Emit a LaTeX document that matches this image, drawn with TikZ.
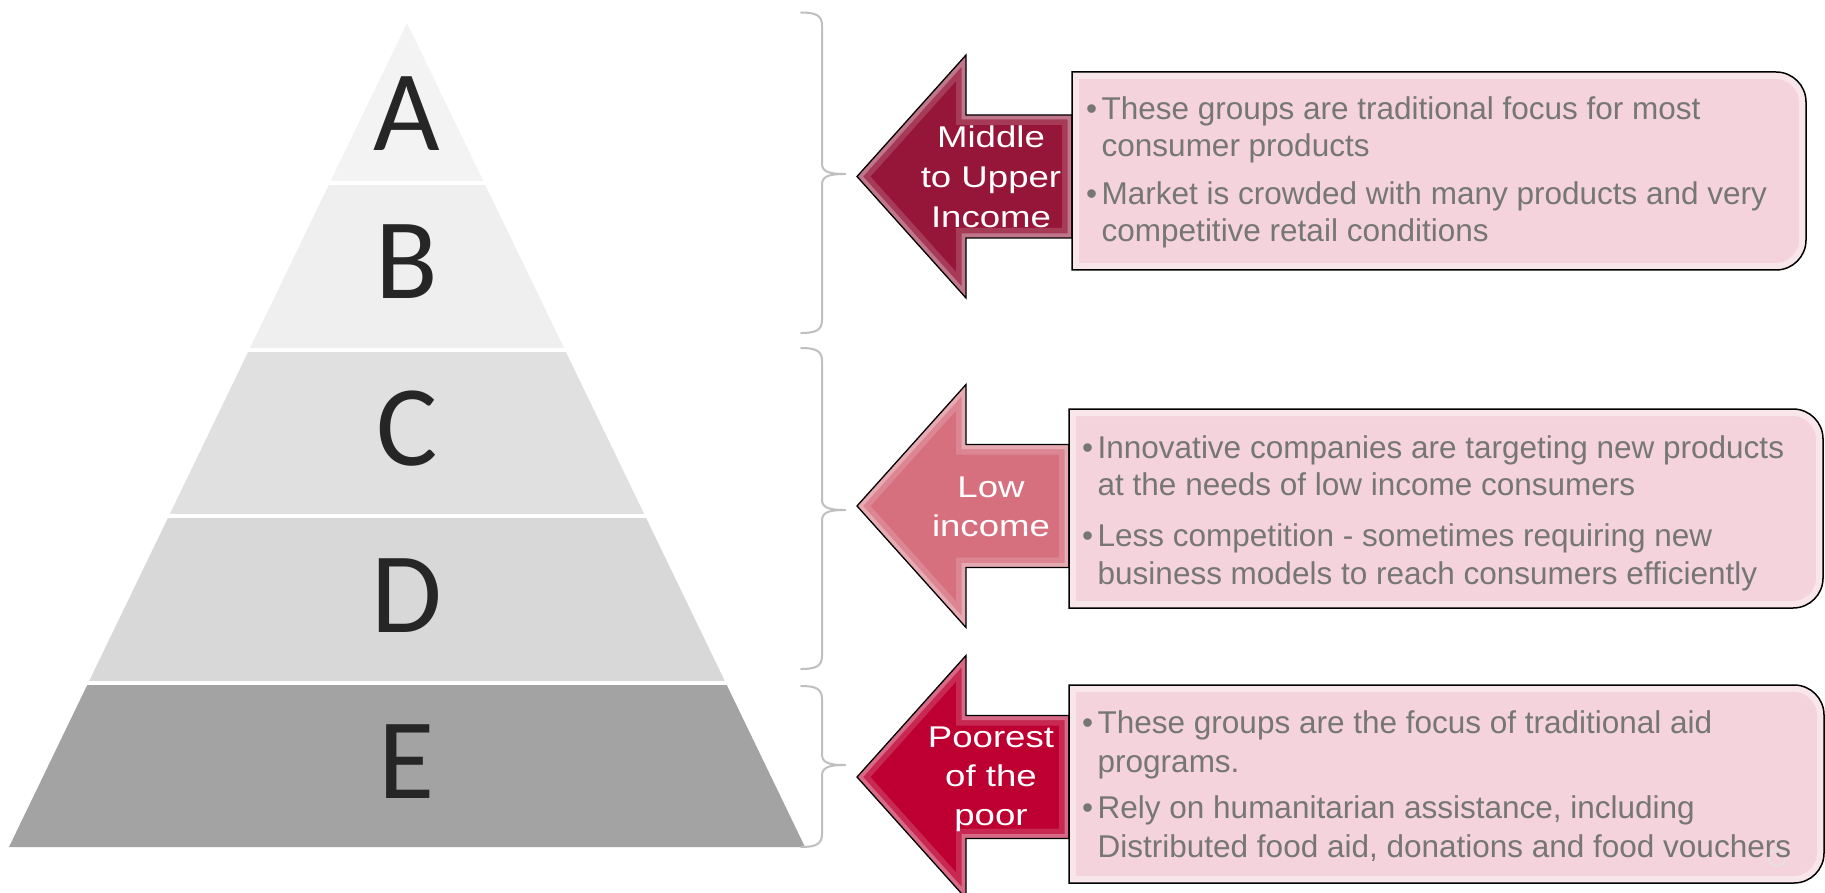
\documentclass[tikz,border=0pt]{standalone}
\usepackage{fontspec}
\usepackage{graphicx}
\setmainfont{Liberation Sans}
\newfontfamily\letterfont{Carlito}

\definecolor{lvA}{HTML}{F3F3F3}
\definecolor{lvB}{HTML}{EFEFEF}
\definecolor{lvC}{HTML}{E0E0E0}
\definecolor{lvD}{HTML}{D8D8D8}
\definecolor{lvE}{HTML}{A3A3A3}
\definecolor{letterdark}{HTML}{262626}
\definecolor{bracegray}{HTML}{BFBFBF}
\definecolor{arrowdark}{HTML}{951639}
\definecolor{arrowrose}{HTML}{D6707F}
\definecolor{arrowcrimson}{HTML}{BD0031}
\definecolor{panelpink}{HTML}{F4D3DC}
\definecolor{paneltextgray}{HTML}{767676}

% bullet with a fixed hanging width
\newcommand\panelbullet{\makebox[15.5pt][l]{\textbullet}}

% left-pointing glossy block arrow: #1 colour, #2 centre y, #3 right end x, #4 name
\newcommand\leftblockarrow[4]{%
  \coordinate (#4) at (857,#2);
  \fill[#1] (857,#2) -- (966,{#2-121.5}) -- (966,{#2-61.5}) -- (#3,{#2-61.5})
    -- (#3,{#2+61.5}) -- (966,{#2+61.5}) -- (966,{#2+121.5}) -- cycle;
  \begin{scope}
    \clip (857,#2) -- (966,{#2-121.5}) -- (966,{#2-61.5}) -- (#3,{#2-61.5})
      -- (#3,{#2+61.5}) -- (966,{#2+61.5}) -- (966,{#2+121.5}) -- cycle;
    \draw[white, opacity=0.16, line width=20pt, line join=miter]
      (857,#2) -- (966,{#2-121.5}) -- (966,{#2-61.5}) -- (#3,{#2-61.5})
      -- (#3,{#2+61.5}) -- (966,{#2+61.5}) -- (966,{#2+121.5}) -- cycle;
    \draw[white, opacity=0.30, line width=9pt, line join=miter]
      (857,#2) -- (966,{#2-121.5}) -- (966,{#2-61.5}) -- (#3,{#2-61.5})
      -- (#3,{#2+61.5}) -- (966,{#2+61.5}) -- (966,{#2+121.5}) -- cycle;
  \end{scope}
  \draw[black, line width=1.3pt, line join=miter]
    (857,#2) -- (966,{#2-121.5}) -- (966,{#2-61.5}) -- (#3,{#2-61.5})
    -- (#3,{#2+61.5}) -- (966,{#2+61.5}) -- (966,{#2+121.5}) -- cycle;
}

% pink text panel, square on the left, rounded on the right:
% #1 name, #2 left x, #3 top y, #4 right x, #5 bottom y
\newcommand\textpanel[5]{%
  \coordinate (#1) at (#2,{(#3+#5)/2});
  \fill[panelpink] (#2,#3) -- ({#4-30},#3) .. controls ({#4-13.4},#3) and (#4,{#3+13.4}) .. (#4,{#3+30})
    -- (#4,{#5-30}) .. controls (#4,{#5-13.4}) and ({#4-13.4},#5) .. ({#4-30},#5) -- (#2,#5) -- cycle;
  \begin{scope}
    \clip (#2,#3) -- ({#4-30},#3) .. controls ({#4-13.4},#3) and (#4,{#3+13.4}) .. (#4,{#3+30})
      -- (#4,{#5-30}) .. controls (#4,{#5-13.4}) and ({#4-13.4},#5) .. ({#4-30},#5) -- (#2,#5) -- cycle;
    \draw[white, opacity=0.45, line width=14pt]
      (#2,#3) -- ({#4-30},#3) .. controls ({#4-13.4},#3) and (#4,{#3+13.4}) .. (#4,{#3+30})
      -- (#4,{#5-30}) .. controls (#4,{#5-13.4}) and ({#4-13.4},#5) .. ({#4-30},#5) -- (#2,#5) -- cycle;
  \end{scope}
  \draw[black, line width=1.5pt]
    (#2,#3) -- ({#4-30},#3) .. controls ({#4-13.4},#3) and (#4,{#3+13.4}) .. (#4,{#3+30})
    -- (#4,{#5-30}) .. controls (#4,{#5-13.4}) and ({#4-13.4},#5) .. ({#4-30},#5) -- (#2,#5) -- cycle;
}

% curly bracket opening to the right: #1 top y, #2 bottom y, #3 tip y
\newcommand\groupbrace[3]{%
  \draw[bracestroke] (801,#1) .. controls (816,#1) and (822,{#1+3}) .. (822,{#1+13})
    -- (822,{#3-11}) .. controls (822,{#3-3}) and (827,#3) .. (845,#3);
  \draw[bracestroke] (801,#2) .. controls (816,#2) and (822,{#2-3}) .. (822,{#2-13})
    -- (822,{#3+11}) .. controls (822,{#3+3}) and (827,#3) .. (845,#3);
}

\begin{document}
\begin{tikzpicture}[x=1pt, y=-1pt,
  levelletter/.style={font=\letterfont\fontsize{115}{115}\selectfont, text=letterdark, inner sep=0pt, anchor=center},
  paneltext/.style={font=\fontsize{31.5}{36}\selectfont, text=paneltextgray, inner sep=0pt, anchor=base west},
  arrowlabel/.style={font=\fontsize{30}{36}\selectfont, text=white, inner sep=0pt, anchor=base},
  bracestroke/.style={draw=bracegray, line width=2pt, line cap=round}]

\fill[white] (0,0) rectangle (1825,893);
\useasboundingbox (0,0) rectangle (1825,893);

% pyramid bands
\foreach \ya/\yb/\col in {0/181/lvA, 186/347/lvB, 352/513/lvC, 518/680/lvD, 685/847/lvE} {
  \begin{scope}
    \clip (0,\ya) rectangle (900,\yb);
    \fill[\col] (407,23) -- (805,847) -- (9,847) -- cycle;
  \end{scope}
}
\node[levelletter] (lvlA) at (407,113.5) {A};
\node[levelletter] (lvlB) at (407,262) {B};
\node[levelletter] (lvlC) at (407,429) {C};
\node[levelletter] (lvlD) at (407,596) {D};
\node[levelletter] (lvlE) at (407,762) {E};

% brackets grouping the bands
\groupbrace{12.5}{333}{174}
\groupbrace{348}{669}{510}
\groupbrace{686}{847}{765}

% arrows
\leftblockarrow{arrowdark}{176.5}{1072}{arrowUpper}
\leftblockarrow{arrowrose}{506}{1069}{arrowLow}
\leftblockarrow{arrowcrimson}{777}{1069}{arrowPoor}

% panels
\textpanel{panelUpper}{1072}{72}{1806}{270}
\textpanel{panelLow}{1069}{409}{1823}{608}
\textpanel{panelPoor}{1069}{685}{1824}{883}
\draw[gray!22, line width=1.5pt] (1777,858) circle (8);

% arrow labels
\node[arrowlabel] (lu1) at (991,147.7) {\scalebox{1.22}[1]{Middle}};
\node[arrowlabel] (lu2) at (991,188) {\scalebox{1.22}[1]{to Upper}};
\node[arrowlabel] (lu3) at (991,228) {\scalebox{1.22}[1]{Income}};
\node[arrowlabel] (ll1) at (991,497.7) {\scalebox{1.22}[1]{Low}};
\node[arrowlabel] (ll2) at (991,536.7) {\scalebox{1.22}[1]{income}};
\node[arrowlabel] (lp1) at (991,747.3) {\scalebox{1.22}[1]{Poorest}};
\node[arrowlabel] (lp2) at (991,786.7) {\scalebox{1.22}[1]{of the}};
\node[arrowlabel] (lp3) at (991,825) {\scalebox{1.22}[1]{poor}};

% panel texts
\node[paneltext] (tu1) at (1086,120) {\panelbullet These groups are traditional focus for most};
\node[paneltext] (tu2) at (1101.5,157) {consumer products};
\node[paneltext] (tu3) at (1086,205) {\panelbullet Market is crowded with many products and very};
\node[paneltext] (tu4) at (1101.5,242) {competitive retail conditions};

\node[paneltext] (tl1) at (1082,458) {\panelbullet Innovative companies are targeting new products};
\node[paneltext] (tl2) at (1097.5,495) {at the needs of low income consumers};
\node[paneltext] (tl3) at (1082,546) {\panelbullet Less competition - sometimes requiring new};
\node[paneltext] (tl4) at (1097.5,584) {business models to reach consumers efficiently};

\node[paneltext] (tp1) at (1082,733) {\panelbullet These groups are the focus of traditional aid};
\node[paneltext] (tp2) at (1097.5,772) {programs.};
\node[paneltext] (tp3) at (1082,818) {\panelbullet Rely on humanitarian assistance, including};
\node[paneltext] (tp4) at (1097.5,857) {Distributed food aid, donations and food vouchers};
\end{tikzpicture}
\end{document}
